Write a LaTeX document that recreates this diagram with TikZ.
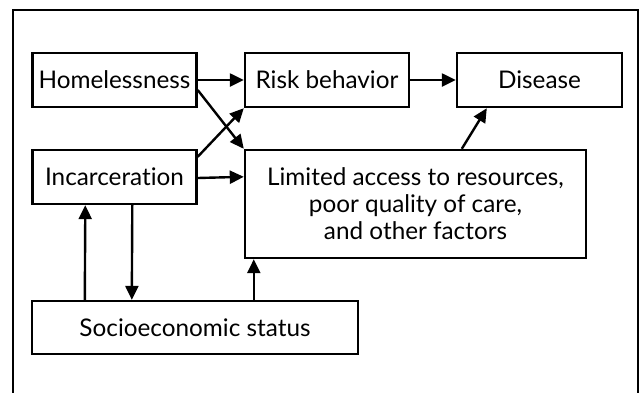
\documentclass[tikz,border=0pt]{standalone}
\usepackage{fontspec}
\setmainfont[Ligatures={NoCommon,NoRare}]{Lato}
\usetikzlibrary{arrows.meta,calc}
\begin{document}
\begin{tikzpicture}[x=1pt,y=-1pt,
  box/.style={draw,line width=2.4pt,inner sep=0pt,align=center,font=\fontsize{24.3}{27}\selectfont},
  arr/.style={line width=2.4pt,-{Triangle[length=14pt,width=13pt]}}]
\useasboundingbox (0,0) rectangle (640,392);
\draw[line width=2.6pt] (13,394) -- (13,10) -- (638,10) -- (638,394);
\node[box,minimum width=164pt,minimum height=54pt] (hom) at (114.5,80) {Homelessness};
\node[box,minimum width=164pt,minimum height=54pt] (risk) at (327,80) {Risk behavior};
\node[box,minimum width=165pt,minimum height=54pt] (dis) at (539.5,80) {Disease};
\node[box,minimum width=164pt,minimum height=54pt] (inc) at (114.5,177) {Incarceration};
\node[box,minimum width=341pt,minimum height=108pt] (lim) at (415.5,204) {Limited access to resources,\\poor quality of care,\\and other factors};
\node[box,minimum width=326pt,minimum height=53pt] (ses) at (195,327.5) {Socioeconomic status};
\draw[arr] (hom.east) -- (risk.west);
\draw[arr] (risk.east) -- (dis.west);
\draw[arr] ($(hom.east)+(0,10)$) -- (lim.north west);
\draw[arr] ($(inc.north east)+(0,8)$) -- (risk.south west);
\draw[arr] ($(inc.east)+(0,1)$) -- ($(lim.north west)+(0,28)$);
\draw[arr] ($(lim.north west)+(218,0)$) -- ($(dis.south west)+(31,0)$);
\draw[arr] ($(ses.north west)+(54,0)$) -- ($(inc.south west)+(54,0)$);
\draw[arr] ($(inc.south west)+(101,0)$) -- ($(ses.north west)+(101,0)$);
\draw[arr] ($(ses.north west)+(223,0)$) -- ($(lim.south west)+(10,0)$);
\end{tikzpicture}
\end{document}
